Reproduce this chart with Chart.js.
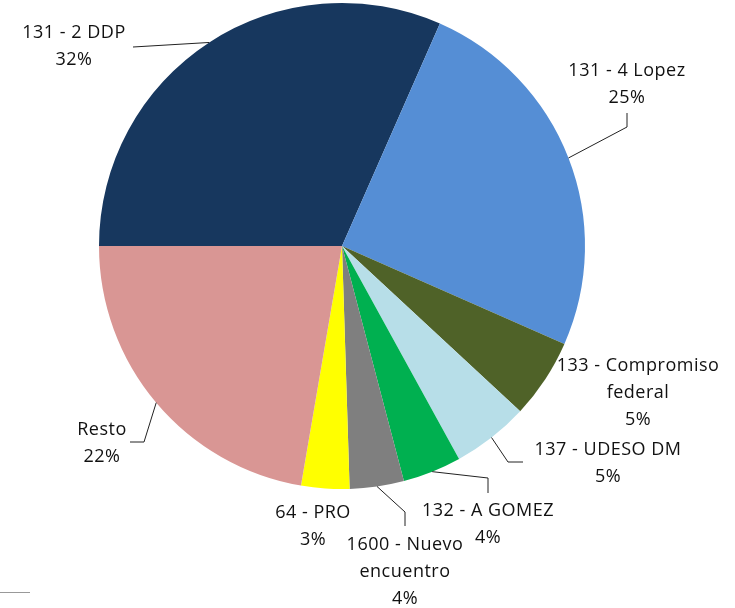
<!DOCTYPE html>
<html lang="es">
<head>
  <meta charset="UTF-8" />
  <title>Distribución de votos</title>
  <style>
    body { margin: 0; background: #fff; }
    .wrap { width: 735px; height: 608px; position: relative; }
  </style>
</head>
<body>
  <div class="wrap"><canvas id="pie"></canvas></div>

  <script src="https://cdn.jsdelivr.net/npm/chart.js"></script>
  <script>
    // data
    const categories = ['131 - 2 DDP', '131 - 4 Lopez', '133 - Compromiso\nfederal', '137 - UDESO DM',
                        '132 - A GOMEZ', '1600 - Nuevo\nencuentro', '64 - PRO', 'Resto'];
    const shares = [31.6, 25.0, 5.3, 5.1, 3.9, 3.6, 3.2, 22.3];
    const sliceColors = ['#17375E', '#558ED5', '#4F6228', '#B7DEE8', '#00B050', '#7F7F7F', '#FFFF00', '#D99694'];

    // label placement (first line centre) and leader line bends, per slice
    const labelPos = [[74, 33], [627, 71], [638, 366], [608, 450], [488, 511], [405, 545], [313, 513], [102, 430]];
    const leaders = [
      [[133, 47]],
      [[627, 127], [627, 113]],
      null,
      [[508, 462], [523, 462]],
      [[488, 478], [488, 493]],
      [[405, 512], [405, 526]],
      null,
      [[144, 442], [130, 442]]
    ];

    const total = shares.reduce((a, b) => a + b, 0);

    const pieLabels = {
      id: 'pieLabels',
      afterDraw(chart) {
        const ctx = chart.ctx;
        const arcs = chart.getDatasetMeta(0).data;
        ctx.save();
        ctx.strokeStyle = '#222';
        ctx.lineWidth = 1;
        arcs.forEach((arc, i) => {
          if (!leaders[i]) return;
          const mid = (arc.startAngle + arc.endAngle) / 2;
          ctx.beginPath();
          ctx.moveTo(arc.x + Math.cos(mid) * arc.outerRadius, arc.y + Math.sin(mid) * arc.outerRadius);
          leaders[i].forEach(p => ctx.lineTo(p[0], p[1]));
          ctx.stroke();
        });

        ctx.fillStyle = '#111';
        ctx.font = '18px "Open Sans"';
        ctx.letterSpacing = '0.5px';
        ctx.textAlign = 'center';
        ctx.textBaseline = 'middle';
        categories.forEach((name, i) => {
          const lines = name.split('\n');
          lines.push(Math.round(shares[i] / total * 100) + '%');
          const [x, y] = labelPos[i];
          lines.forEach((t, k) => ctx.fillText(t, x, y + k * 27));
        });

        // stray rule at bottom-left of the original
        ctx.strokeStyle = '#999';
        ctx.beginPath();
        ctx.moveTo(0, 592.5);
        ctx.lineTo(30, 592.5);
        ctx.stroke();
        ctx.restore();
      }
    };

    new Chart(document.getElementById('pie'), {
      type: 'pie',
      data: {
        labels: categories,
        datasets: [{
          data: shares,
          backgroundColor: sliceColors,
          borderWidth: 0
        }]
      },
      options: {
        responsive: true,
        maintainAspectRatio: false,
        animation: false,
        rotation: -90,
        layout: { padding: { left: 99, right: 150, top: 3, bottom: 119 } },
        plugins: {
          legend: { display: false },
          tooltip: { enabled: false }
        }
      },
      plugins: [pieLabels]
    });
  </script>
</body>
</html>
